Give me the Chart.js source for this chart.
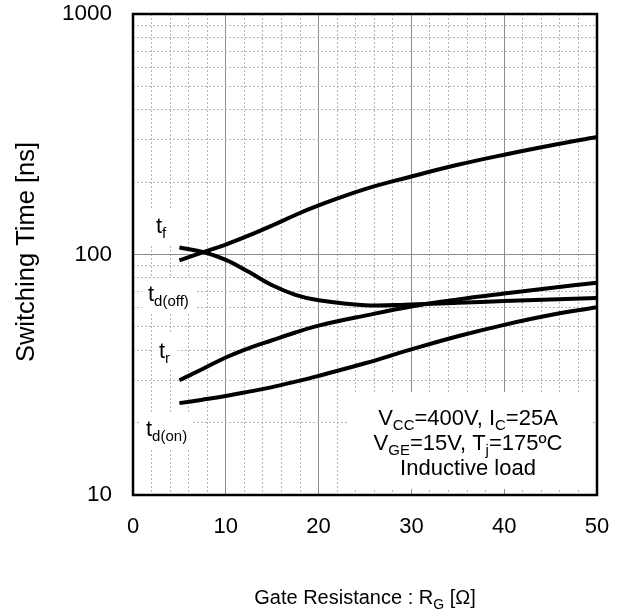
<!DOCTYPE html>
<html>
<head>
<meta charset="utf-8">
<script src="https://cdn.jsdelivr.net/npm/chart.js@4.4.1/dist/chart.umd.min.js"></script>
<style>
  html, body { margin: 0; padding: 0; background: #fff; }
  canvas { display: block; }
</style>
</head>
<body>
<canvas id="chart" width="619" height="609"></canvas>
<script>
// Gate resistance (ohm) where the curves were read
const rg = [5, 7.5, 10, 12.5, 15, 17.5, 20, 25, 30, 35, 40, 45, 50];

// Switching times (ns)
const tf    = [94.5, 102, 110, 120, 132, 146, 160, 187, 211, 236, 260, 284, 308];
const tdOff = [107, 102.5, 95, 84.5, 74.5, 68, 64.5, 61.5, 62, 63, 64, 65, 66];
const tr    = [30, 33.4, 37.3, 40.8, 44, 47.4, 50.6, 55.7, 60.8, 65, 68.8, 72.6, 76.3];
const tdOn  = [24.1, 24.9, 25.8, 26.9, 28.1, 29.6, 31.3, 35.3, 40.3, 45.7, 51, 56, 60.3];

// Axis ticks
const xTicks = [0, 10, 20, 30, 40, 50];
const xMinorTicks = [2, 4, 6, 8, 12, 14, 16, 18, 22, 24, 26, 28, 32, 34, 36, 38, 42, 44, 46, 48];
const yTicks = [10, 100, 1000];
const yMinorTicks = [20, 30, 40, 50, 60, 70, 80, 90, 200, 300, 400, 500, 600, 700, 800, 900];

const FONT = "'Liberation Sans', Arial, sans-serif";

function series(values) {
    return {
        data: rg.map((x, i) => ({ x: x, y: values[i] })),
        showLine: true,
        borderColor: "#000",
        borderWidth: 4,
        pointRadius: 0,
        tension: 0.4,
        fill: false
    };
}

// draws text pieces, some as subscripts; align "left" or "center"
function drawRich(ctx, x, y, parts, size, subSize, align) {
    let total = 0;
    parts.forEach(p => {
        ctx.font = (p[1] ? subSize : size) + "px " + FONT;
        total += ctx.measureText(p[0]).width;
    });
    let cx = align === "center" ? x - total / 2 : x;
    ctx.textAlign = "left";
    ctx.textBaseline = "alphabetic";
    ctx.fillStyle = "#000";
    parts.forEach(p => {
        ctx.font = (p[1] ? subSize : size) + "px " + FONT;
        ctx.fillText(p[0], cx, p[1] ? y + 5 : y);
        cx += ctx.measureText(p[0]).width;
    });
}

function noPad(s) {
    s.paddingLeft = 0;
    s.paddingRight = 0;
    s.paddingTop = 0;
    s.paddingBottom = 0;
}

const decorations = {
    id: "decorations",
    beforeDatasetsDraw(chart) {
        const ctx = chart.ctx;
        ctx.save();
        ctx.fillStyle = "#fff";
        // white patches behind curve labels and the condition box
        ctx.fillRect(150, 208, 26, 36);
        ctx.fillRect(142, 278, 54, 36);
        ctx.fillRect(152, 334, 26, 34);
        ctx.fillRect(140, 413, 52, 36);
        ctx.fillRect(348, 392, 245, 97);

        drawRich(ctx, 156, 233, [["t", false], ["f", true]], 22, 15);
        drawRich(ctx, 148, 301, [["t", false], ["d(off)", true]], 22, 15);
        drawRich(ctx, 159, 358, [["t", false], ["r", true]], 22, 15);
        drawRich(ctx, 146, 436, [["t", false], ["d(on)", true]], 22, 15);

        drawRich(ctx, 468, 425, [["V", false], ["CC", true], ["=400V, I", false], ["C", true], ["=25A", false]], 22, 15, "center");
        drawRich(ctx, 468, 450, [["V", false], ["GE", true], ["=15V, T", false], ["j", true], ["=175ºC", false]], 22, 15, "center");
        drawRich(ctx, 468, 475, [["Inductive load", false]], 22, 15, "center");
        ctx.restore();
    },
    afterDraw(chart) {
        const ctx = chart.ctx;
        const a = chart.chartArea;
        ctx.save();
        ctx.strokeStyle = "#000";
        ctx.lineWidth = 2.5;
        ctx.strokeRect(a.left, a.top, a.right - a.left, a.bottom - a.top);

        // axis titles
        drawRich(ctx, 365, 604, [["Gate Resistance : R", false], ["G", true], [" [Ω]", false]], 20, 14, "center");
        ctx.translate(34, 252);
        ctx.rotate(-Math.PI / 2);
        ctx.font = "25.5px " + FONT;
        ctx.textAlign = "center";
        ctx.textBaseline = "alphabetic";
        ctx.fillStyle = "#000";
        ctx.fillText("Switching Time [ns]", 0, 0);
        ctx.restore();
    }
};

new Chart(document.getElementById("chart"), {
    type: "scatter",
    data: {
        datasets: [series(tf), series(tdOff), series(tr), series(tdOn)]
    },
    options: {
        responsive: false,
        animation: false,
        layout: { padding: { top: 14, right: 22, left: 0, bottom: 0 } },
        plugins: {
            legend: { display: false },
            tooltip: { enabled: false }
        },
        scales: {
            x: {
                type: "linear",
                min: 0,
                max: 50,
                afterBuildTicks: s => { s.ticks = xTicks.map(v => ({ value: v })); },
                afterFit: s => { s.height = 114; noPad(s); },
                ticks: {
                    color: "#000",
                    padding: 19,
                    font: { family: FONT, size: 22 }
                },
                grid: { color: "#8c8c8c", lineWidth: 1, drawTicks: false },
                border: { display: false }
            },
            xMinor: {
                type: "linear",
                position: "bottom",
                min: 0,
                max: 50,
                afterBuildTicks: s => { s.ticks = xMinorTicks.map(v => ({ value: v })); },
                afterFit: s => { s.height = 0; noPad(s); },
                ticks: { display: false },
                grid: { color: "#b4b4b4", lineWidth: 1, drawTicks: false },
                border: { display: false, dash: [2, 2] }
            },
            y: {
                type: "logarithmic",
                min: 10,
                max: 1000,
                afterBuildTicks: s => { s.ticks = yTicks.map(v => ({ value: v })); },
                afterFit: s => { s.width = 133; noPad(s); },
                ticks: {
                    color: "#000",
                    padding: 21,
                    font: { family: FONT, size: 22.5 },
                    callback: v => String(v)
                },
                grid: { color: "#8c8c8c", lineWidth: 1, drawTicks: false },
                border: { display: false }
            },
            yMinor: {
                type: "logarithmic",
                position: "left",
                min: 10,
                max: 1000,
                afterBuildTicks: s => { s.ticks = yMinorTicks.map(v => ({ value: v })); },
                afterFit: s => { s.width = 0; noPad(s); },
                ticks: { display: false },
                grid: { color: "#b4b4b4", lineWidth: 1, drawTicks: false },
                border: { display: false, dash: [2, 2] }
            }
        }
    },
    plugins: [decorations]
});
</script>
</body>
</html>
